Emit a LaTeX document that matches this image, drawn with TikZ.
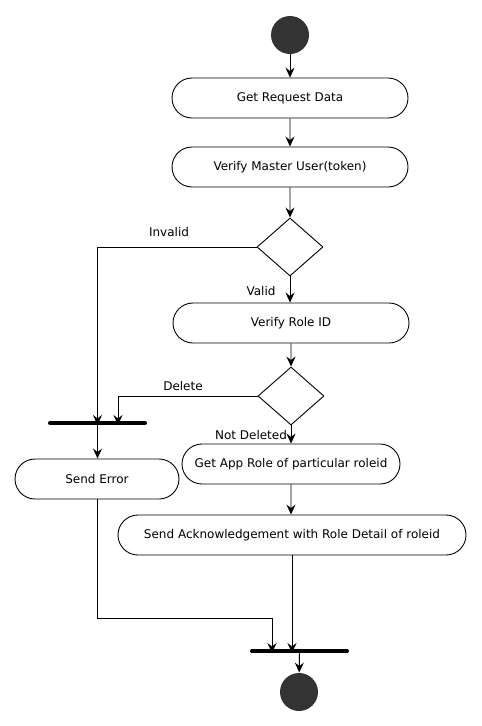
\documentclass[tikz,border=0pt]{standalone}
\usepackage{fontspec}
\setmainfont{DejaVu Sans}
\usetikzlibrary{shapes.misc, shapes.geometric, arrows.meta}

\begin{document}
\begin{tikzpicture}[x=1pt, y=-1pt, line width=0.9pt,
		arr/.style={-{Stealth[length=10pt, width=9pt, inset=3.5pt]}},
		activity/.style={draw, shape=rounded rectangle, minimum height=40pt, inner sep=0pt, font=\fontsize{12}{14}\selectfont},
		decision/.style={draw, shape=diamond, minimum width=66pt, minimum height=58pt, inner sep=0pt},
		bar/.style={draw, line width=4pt, line cap=round},
		terminal/.style={shape=circle, fill=black!80, minimum size=38pt, inner sep=0pt},
		guard/.style={font=\fontsize{12}{14}\selectfont}]
		\useasboundingbox (0,0) rectangle (482,726);
		\node (start) [terminal] at (290,35) {};
		\node (getreq) [activity, minimum width=236pt] at (290,98) {Get Request Data};
		\node (verifymaster) [activity, minimum width=236pt] at (290,167) {Verify Master User(token)};
		\node (checktoken) [decision] at (290,247) {};
		\node (verifyrole) [activity, minimum width=236pt] at (291,323) {Verify Role ID};
		\node (checkrole) [decision] at (291,396) {};
		\coordinate (errbar) at (97.5,423);
		\coordinate (endbar) at (299.5,651);
		\draw [bar] (50,423) -- (145,423);
		\draw [bar] (252,651) -- (347,651);
		\node (senderror) [activity, minimum width=164pt] at (97,479) {Send Error};
		\node (getapprole) [activity, minimum width=218pt] at (291,464) {Get App Role of particular roleid};
		\node (sendack) [activity, minimum width=348pt] at (292,535) {Send Acknowledgement with Role Detail of roleid};
		\node (stop) [terminal] at (299,692) {};

		\node (invalid) [guard] at (169,232) {Invalid};
		\node (valid) [guard] at (261,291) {Valid};
		\node (delete) [guard] at (183,386) {Delete};
		\node (notdeleted) [guard] at (251,435) {Not Deleted};

		\draw [arr] (start) -- (getreq);
		\draw [arr] (getreq) -- (verifymaster);
		\draw [arr] (verifymaster) -- (checktoken);
		\draw [arr] (checktoken) -- (verifyrole.north -| checktoken);
		\draw [arr] (verifyrole) -- (checkrole);
		\draw [arr] (checkrole) -- (getapprole);
		\draw [arr] (getapprole) -- (sendack.north -| getapprole);

		\draw [arr] (checktoken.west) -| ([yshift=-2pt]errbar);
		\draw [arr] (checkrole.west) -| ([xshift=20.5pt, yshift=-2pt]errbar);
		\draw [arr] ([yshift=2pt]errbar) -- (senderror.north -| errbar);

		\draw [arr] (senderror.south) -- ++(0,119) -| ([xshift=-27.5pt, yshift=-2pt]endbar);
		\draw [arr] (sendack.south) -- ([xshift=-7.5pt, yshift=-2pt]endbar);
		\draw [arr] ([yshift=2pt]endbar) -- (stop);
\end{tikzpicture}
\end{document}
